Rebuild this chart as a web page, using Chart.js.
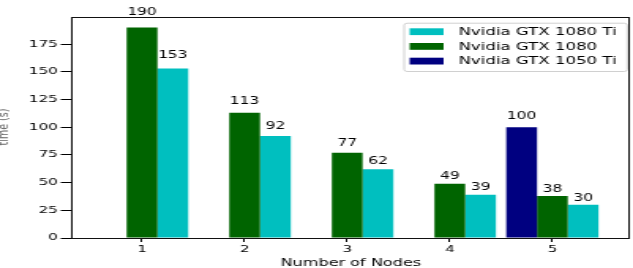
<!DOCTYPE html>
<html>
<head>
<meta charset="utf-8">
<script src="https://cdn.jsdelivr.net/npm/chart.js@4"></script>
<style>
html, body { margin: 0; padding: 0; background: #fff; overflow: hidden; }
#wrap { width: 633px; height: 268px; overflow: hidden; }
/* the reference figure is stretched sideways, so the canvas is too */
#c { display: block; transform: scaleX(1.5786); transform-origin: 0 0; }
</style>
</head>
<body>
<div id="wrap"><canvas id="c" width="401" height="268"></canvas></div>
<script>
const nodes = [1, 2, 3, 4, 5];
const gtx1050ti = [null, null, null, null, 100];
const gtx1080 = [190, 113, 77, 49, 38];
const gtx1080ti = [153, 92, 62, 39, 30];
const yTicks = [0, 25, 50, 75, 100, 125, 150, 175];

const FONT = 'DejaVu Sans';

function points(values) {
    return nodes.map((n, i) => ({ x: n, y: values[i] }));
}

// bar values, frame, axis titles and the in-plot legend
const extras = {
    id: 'extras',
    afterDatasetsDraw(chart) {
        const ctx = chart.ctx;
        const area = chart.chartArea;
        const yScale = chart.scales.y;
        ctx.save();

        ctx.fillStyle = '#000';
        ctx.font = '9.8px "' + FONT + '"';
        ctx.textAlign = 'center';
        ctx.textBaseline = 'alphabetic';
        chart.data.datasets.forEach((ds, di) => {
            chart.getDatasetMeta(di).data.forEach((bar, i) => {
                const v = ds.data[i].y;
                if (v === null) return;
                ctx.fillText(String(v), bar.x, yScale.getPixelForValue(v * 1.05) - 2.2);
            });
        });

        ctx.strokeStyle = '#111';
        ctx.lineWidth = 1;
        ctx.strokeRect(Math.round(area.left) + 0.5, Math.round(area.top) + 0.5,
            Math.round(area.right - area.left) - 1, Math.round(area.bottom - area.top));

        ctx.fillStyle = '#000';
        ctx.font = '10.2px "' + FONT + '"';
        ctx.textBaseline = 'middle';
        ctx.fillText('Number of Nodes', (area.left + area.right) / 2 + 1, 263.5);

        ctx.save();
        ctx.translate(2.5, 127);
        ctx.rotate(-Math.PI / 2);
        ctx.font = '9.5px "' + FONT + '"';
        ctx.fillStyle = '#666';
        ctx.fillText('time (s)', 0, 0);
        ctx.restore();

        // legend, reversed order like the reference
        const lx = area.right - 142.5, ly = area.top + 5.7, lw = 141.3, lh = 48.3;
        ctx.beginPath();
        ctx.roundRect(lx + 0.5, ly + 0.5, lw, lh, 2);
        ctx.fillStyle = 'rgba(255,255,255,0.85)';
        ctx.fill();
        ctx.strokeStyle = '#d0d0d0';
        ctx.stroke();
        ctx.font = '10.5px "' + FONT + '"';
        ctx.textAlign = 'left';
        const items = chart.data.datasets.slice().reverse();
        items.forEach((ds, k) => {
            const cy = ly + 9 + k * 14.7;
            ctx.fillStyle = ds.backgroundColor;
            ctx.fillRect(lx + 4, cy - 3.4, 21.5, 6.8);
            ctx.fillStyle = '#000';
            ctx.fillText(ds.label, lx + 35, cy + 0.5);
        });
        ctx.restore();
    }
};

new Chart(document.getElementById('c'), {
    type: 'bar',
    data: {
        datasets: [
            { label: 'Nvidia GTX 1050 Ti', data: points(gtx1050ti), backgroundColor: '#000080' },
            { label: 'Nvidia GTX 1080', data: points(gtx1080), backgroundColor: '#006400' },
            { label: 'Nvidia GTX 1080 Ti', data: points(gtx1080ti), backgroundColor: '#00bfbf' }
        ]
    },
    options: {
        responsive: false,
        animation: false,
        categoryPercentage: 0.9,
        barPercentage: 1.0,
        layout: { padding: { top: 17, right: 3, left: 0, bottom: 0 } },
        plugins: { legend: { display: false }, tooltip: { enabled: false } },
        scales: {
            x: {
                type: 'linear',
                min: 0.3,
                max: 5.74,
                offset: false,
                afterBuildTicks: s => { s.ticks = nodes.map(v => ({ value: v })); },
                afterFit: s => { s.height = 30; },
                border: { display: false },
                grid: { offset: false, drawOnChartArea: false, drawTicks: true, tickLength: 4, tickColor: '#000' },
                ticks: {
                    padding: 2, maxRotation: 0, autoSkip: false, color: '#000',
                    font: { family: FONT, size: 9.5 },
                    callback: v => String(v)
                }
            },
            y: {
                min: 0,
                max: 199.5,
                afterBuildTicks: s => { s.ticks = yTicks.map(v => ({ value: v })); },
                afterFit: s => { s.width = 44.5; },
                border: { display: false },
                grid: { drawOnChartArea: false, drawTicks: true, tickLength: 6, tickColor: '#000' },
                ticks: {
                    padding: 2, color: '#000',
                    font: { family: FONT, size: 9.5 },
                    callback: v => String(v)
                }
            }
        }
    },
    plugins: [extras]
});
</script>
</body>
</html>
